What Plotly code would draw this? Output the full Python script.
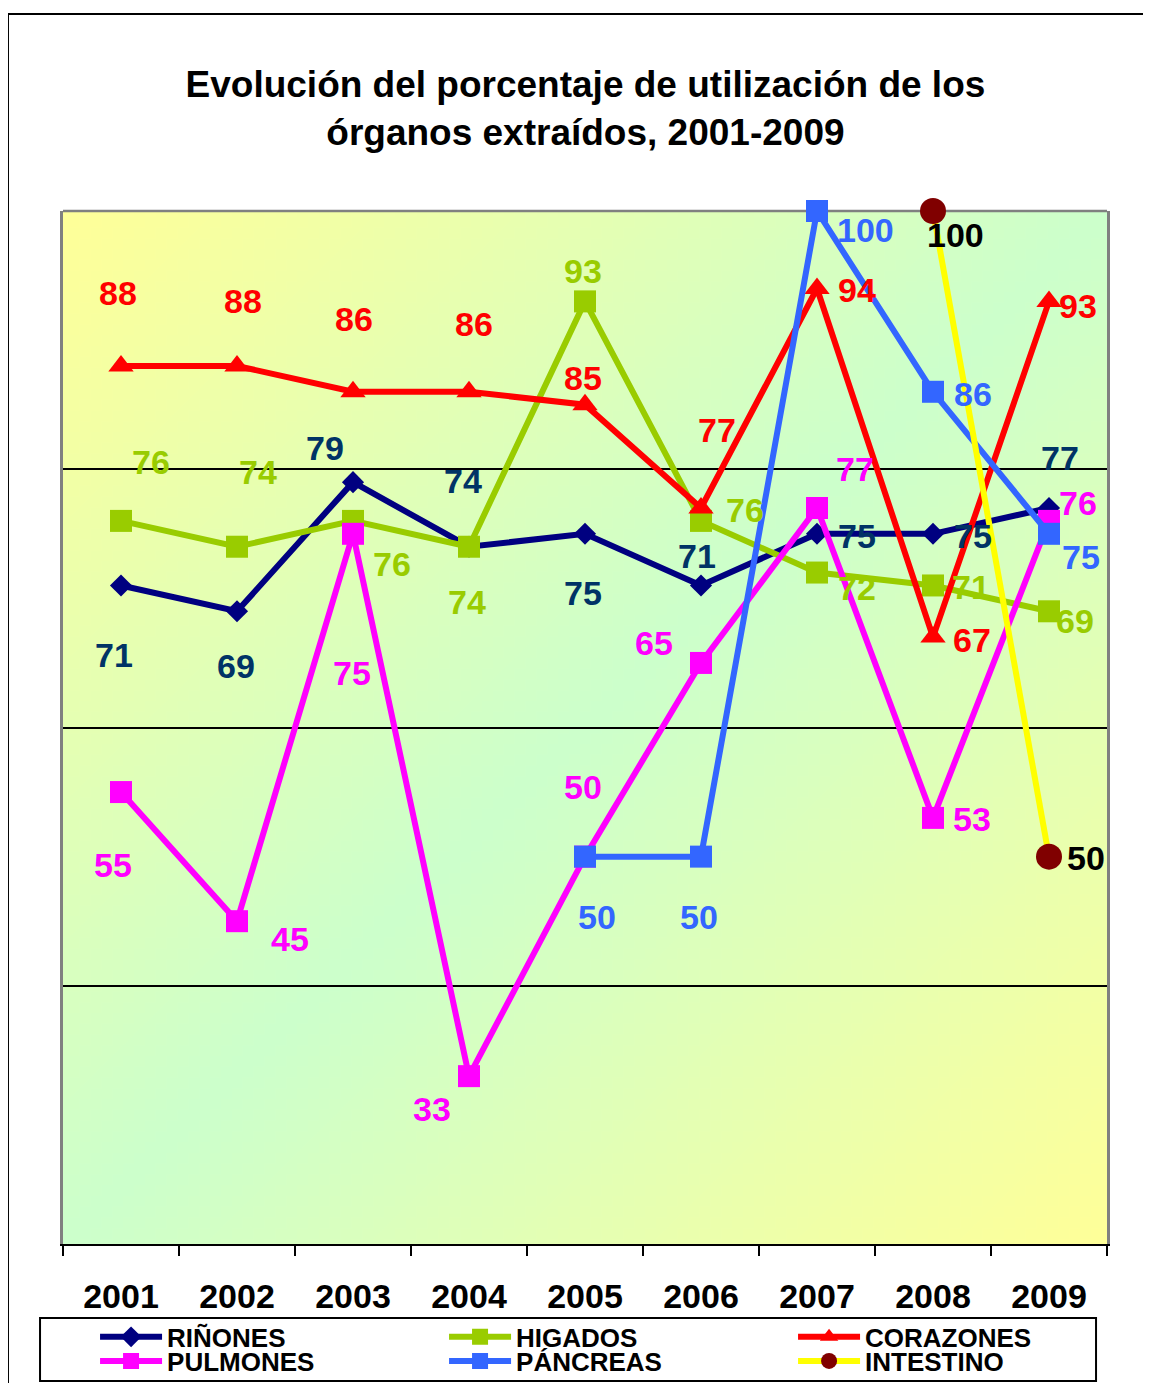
import base64
import struct
import zlib

import plotly.graph_objects as go

years = ["2001", "2002", "2003", "2004", "2005", "2006", "2007", "2008", "2009"]

rinones = [71, 69, 79, 74, 75, 71, 75, 75, 77]
higados = [76, 74, 76, 74, 93, 76, 72, 71, 69]
corazones = [88, 88, 86, 86, 85, 77, 94, 67, 93]
pulmones = [55, 45, 75, 33, 50, 65, 77, 53, 76]
pancreas = [None, None, None, None, 50, 50, 100, 86, 75]
intestino = [None, None, None, None, None, None, None, 100, 50]

FONT = "Liberation Sans, Arial, sans-serif"

# name, values, line colour, marker symbol, marker colour, marker size, label colour
series = [
    ("RIÑONES", rinones, "#000080", "diamond", "#000080", 17, "#003366"),
    ("HIGADOS", higados, "#99CC00", "square", "#99CC00", 22, "#99CC00"),
    ("CORAZONES", corazones, "#FF0000", "triangle-up", "#FF0000", 22, "#FF0000"),
    ("PULMONES", pulmones, "#FF00FF", "square", "#FF00FF", 22, "#FF00FF"),
    ("PÁNCREAS", pancreas, "#3366FF", "square", "#3366FF", 22, "#3366FF"),
    ("INTESTINO", intestino, "#FFFF00", "circle", "#800000", 26, "#000000"),
]

# pixel offsets of each value label from its point (dx right, dy down)
label_offsets = [
    [(-7, 70), (-1, 55), (-28, -34), (-6, -66), (-2, 59), (-4, -29), (40, 2), (40, 2), (11, -50)],
    [(30, -59), (21, -75), (39, 43), (-2, 55), (-2, -30), (44, -11), (40, 15), (38, 2), (26, 10)],
    [(-3, -73), (6, -65), (1, -73), (5, -68), (-2, -27), (16, -78), (40, 2), (39, 3), (29, 5)],
    [(-8, 73), (53, 18), (-1, 139), (-37, 33), (-2, -70), (-47, -20), (38, -39), (39, 1), (29, -18)],
    [None, None, None, None, (12, 60), (-2, 60), (48, 19), (40, 2), (32, 23)],
    [None, None, None, None, None, None, None, (22, 24), (37, 1)],
]


def gradient_png(w, h):
    # diagonal two-colour fill: yellow in top-left / bottom-right, green on the other diagonal
    yellow = (255, 255, 153)
    green = (204, 255, 204)
    rows = []
    for j in range(h):
        v = 1 - j / (h - 1)
        row = bytearray([0])
        for i in range(w):
            u = i / (w - 1)
            t = abs(u - v)
            row += bytes(int(round(green[k] * (1 - t) + yellow[k] * t)) for k in range(3))
        rows.append(bytes(row))
    raw = b"".join(rows)

    def chunk(tag, data):
        return struct.pack(">I", len(data)) + tag + data + struct.pack(">I", zlib.crc32(tag + data) & 0xFFFFFFFF)

    png = (b"\x89PNG\r\n\x1a\n"
           + chunk(b"IHDR", struct.pack(">IIBBBBB", w, h, 8, 2, 0, 0, 0))
           + chunk(b"IDAT", zlib.compress(raw, 9))
           + chunk(b"IEND", b""))
    return "data:image/png;base64," + base64.b64encode(png).decode()


fig = go.Figure()

for idx, (name, vals, lcol, sym, mcol, msize, tcol) in enumerate(series):
    fig.add_trace(go.Scatter(
        x=years, y=vals, name=name, mode="lines+markers",
        line=dict(color=lcol, width=6),
        marker=dict(symbol=sym, color=mcol, size=msize),
        cliponaxis=False, connectgaps=False,
        legend="legend" if idx < 3 else "legend2",
    ))
    # category axis: annotations placed by category index
    for i, (v, off) in enumerate(zip(vals, label_offsets[idx])):
        if v is None:
            continue
        fig.add_annotation(
            x=i, y=v, xref="x", yref="y", text="<b>%d</b>" % v, showarrow=False,
            xshift=off[0], yshift=-off[1],
            font=dict(family=FONT, size=34, color=tcol),
        )

fig.add_layout_image(
    source=gradient_png(96, 96), xref="paper", yref="paper",
    x=0, y=1, sizex=1, sizey=1, xanchor="left", yanchor="top",
    sizing="stretch", layer="below",
)

# top edge of the plot area (grey) and the outer frame / legend box
fig.add_shape(type="line", xref="paper", yref="paper", x0=0, x1=1, y0=1, y1=1,
              line=dict(color="#808080", width=2.5), layer="below")
fig.add_shape(type="rect", xref="paper", yref="paper", x0=-0.0527, x1=1.06, y0=-0.16, y1=1.1907,
              line=dict(color="black", width=2))
fig.add_shape(type="rect", xref="paper", yref="paper", x0=-0.022, x1=0.9895, y0=-0.1326, y1=-0.0716,
              line=dict(color="black", width=2))

legend_common = dict(
    orientation="h", xanchor="left", yanchor="middle", x=0.0307,
    bgcolor="rgba(0,0,0,0)", borderwidth=0, itemwidth=62,
    entrywidth=272, entrywidthmode="pixels",
    font=dict(family=FONT, size=26, color="black", weight="bold"),
    itemclick=False, itemdoubleclick=False,
)

fig.update_layout(
    width=1143, height=1375,
    margin=dict(l=55, r=44, t=203, b=139, autoexpand=False),
    paper_bgcolor="white", plot_bgcolor="white",
    title=dict(
        text="<b>Evolución del porcentaje de utilización de los<br>órganos extraídos, 2001-2009</b>",
        x=0.5052, xanchor="center", y=0.9356, yanchor="middle",
        font=dict(family=FONT, size=37, color="black"),
    ),
    showlegend=True,
    legend=dict(y=-0.0900, **legend_common),
    legend2=dict(y=-0.1133, **legend_common),
)

fig.update_xaxes(
    type="category", range=[-0.5, 8.5],
    showline=True, linecolor="black", linewidth=2,
    ticks="outside", tickson="boundaries", ticklen=10, tickwidth=2, tickcolor="black",
    ticklabelstandoff=21, showgrid=False,
    tickfont=dict(family=FONT, size=34, color="black", weight="bold"),
)
fig.update_yaxes(
    range=[20, 100], tickvals=[40, 60, 80], showticklabels=False,
    showgrid=True, gridcolor="black", gridwidth=2, zeroline=False,
    showline=True, mirror=True, linecolor="#808080", linewidth=2.5, ticks="",
)

fig.write_html("out.html")
